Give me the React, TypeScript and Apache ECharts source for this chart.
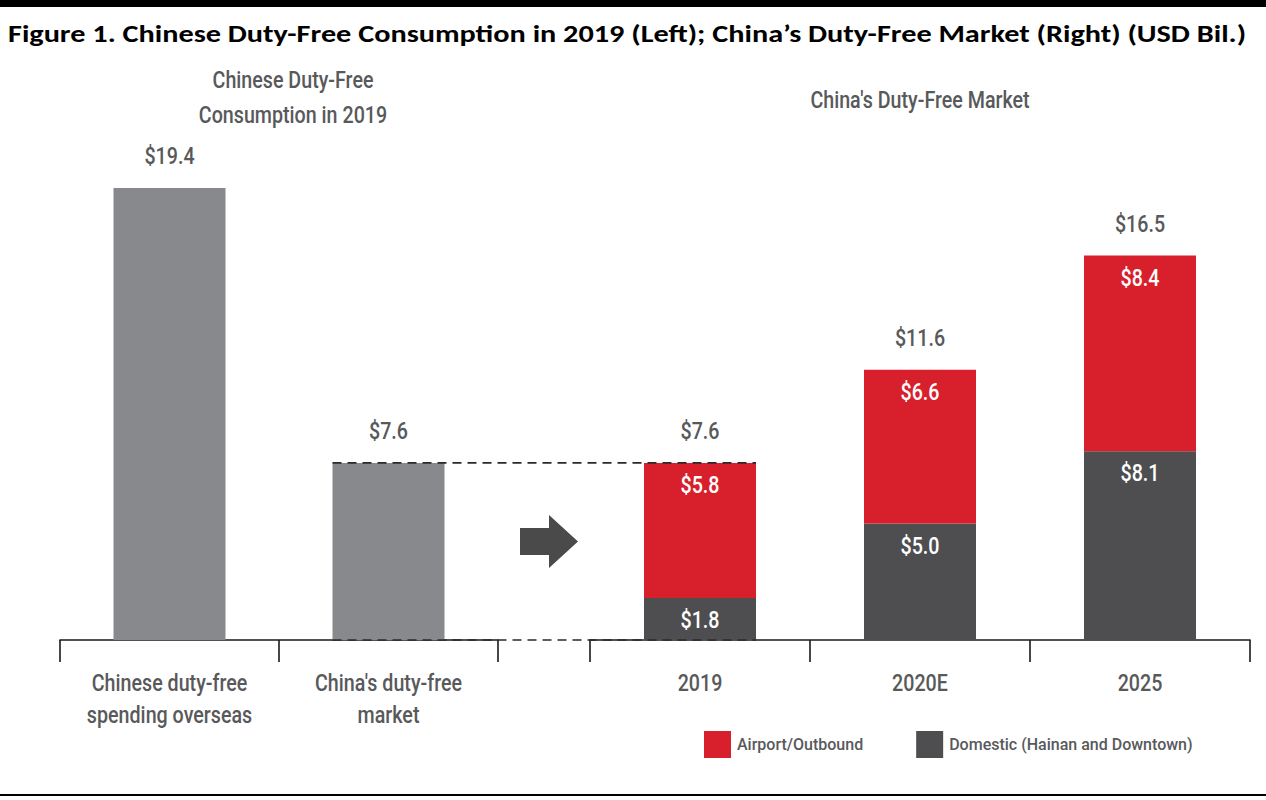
import React, { useEffect, useRef } from "react";
import * as echarts from "echarts";

const leftCategories = ["Chinese duty-free\nspending overseas", "China's duty-free\nmarket"];
const leftValues = [19.4, 7.6];
const rightCategories = ["2019", "2020E", "2025"];
const airportValues = [5.8, 6.6, 8.4];
const domesticValues = [1.8, 5.0, 8.1];
const totalValues = [7.6, 11.6, 16.5];
const seriesNames = ["Airport/Outbound", "Domestic (Hainan and Downtown)"];
const titleText = "Figure 1. Chinese Duty-Free Consumption in 2019 (Left); China\u2019s Duty-Free Market (Right) (USD Bil.)";
const leftHeading = ["Chinese Duty-Free", "Consumption in 2019"];
const rightHeading = "China's Duty-Free Market";

const FONT = "Roboto, 'Noto Sans', sans-serif";
const GRAY_TEXT = "#58595B";
const RED = "#D81F2C";
const DARK = "#4E4E50";
const LIGHT = "#88898D";
const BAR_W = 112;
const SX = 0.82;
const FS = 24;
const FW = 500;

const money = (v: number) => "$" + v.toFixed(1);

export default function App() {
  const ref = useRef<HTMLDivElement>(null);
  useEffect(() => {
    if (!ref.current) return;
    const chart = echarts.init(ref.current, undefined, { renderer: "svg" });
    const axisCommon = {
      type: "category" as const,
      axisLine: { lineStyle: { color: "#1a1a1a", width: 1.6 } },
      axisTick: { show: true, length: 22, interval: 0, lineStyle: { color: "#1a1a1a", width: 1.6 } },
      axisLabel: { show: false },
    };
    chart.setOption({
      animation: false,
      backgroundColor: "#ffffff",
      legend: {
        data: seriesNames,
        left: 699,
        top: 726,
        itemWidth: 27,
        itemHeight: 27,
        itemGap: 53,
        icon: "rect",
        textStyle: { fontFamily: FONT, fontSize: 16, fontWeight: FW, color: GRAY_TEXT, padding: [0, 0, 0, 1] },
      },
      grid: [
        { left: 60, right: 1266 - 498, top: 174, bottom: 160 },
        { left: 590, right: 16, top: 174, bottom: 160 },
      ],
      xAxis: [
        { ...axisCommon, gridIndex: 0, data: leftCategories },
        { ...axisCommon, gridIndex: 1, data: rightCategories },
      ],
      yAxis: [
        { gridIndex: 0, type: "value", min: 0, max: 20, show: false },
        { gridIndex: 1, type: "value", min: 0, max: 20, show: false },
      ],
      series: [
        {
          type: "bar",
          name: "left",
          xAxisIndex: 0,
          yAxisIndex: 0,
          data: leftValues,
          barWidth: BAR_W,
          itemStyle: { color: LIGHT },
        },
        {
          type: "bar",
          name: seriesNames[1],
          xAxisIndex: 1,
          yAxisIndex: 1,
          stack: "r",
          data: domesticValues,
          barWidth: BAR_W,
          itemStyle: { color: DARK },
        },
        {
          type: "bar",
          name: seriesNames[0],
          xAxisIndex: 1,
          yAxisIndex: 1,
          stack: "r",
          data: airportValues,
          barWidth: BAR_W,
          itemStyle: { color: RED },
        },
      ],
    });

    const g: any[] = [];
    const T = (x: number, y: number, text: string, color = GRAY_TEXT, size = FS, sx = SX) =>
      g.push({
        type: "text",
        x,
        y,
        scaleX: sx,
        z: 20,
        style: {
          text,
          textAlign: "center",
          textVerticalAlign: "middle",
          fontFamily: FONT,
          fontWeight: FW,
          fontSize: size,
          fill: color,
        },
      });
    const px = (grid: number, i: number, v: number) => chart.convertToPixel({ gridIndex: grid }, [i, v]) as number[];

    // title & rules
    g.push({ type: "rect", shape: { x: 0, y: 0, width: 1266, height: 7 }, style: { fill: "#000" } });
    g.push({ type: "rect", shape: { x: 0, y: 794, width: 1266, height: 2 }, style: { fill: "#000" } });
    g.push({
      type: "text",
      x: 8,
      y: 33,
      scaleX: 1.21,
      style: {
        text: titleText,
        textAlign: "left",
        textVerticalAlign: "middle",
        fontFamily: "Carlito, Lato, sans-serif",
        fontWeight: "bold",
        fontSize: 25,
        fill: "#000",
      },
    });

    // headings
    T(293, 80, leftHeading[0]);
    T(293, 115, leftHeading[1]);
    T(920, 100, rightHeading);

    // left values and category labels
    leftValues.forEach((v, i) => {
      const p = px(0, i, v);
      T(p[0], p[1] - 32, money(v));
      const b = px(0, i, 0);
      leftCategories[i].split("\n").forEach((line, k) => T(b[0], b[1] + 43 + k * 32, line));
    });
    // right values
    rightCategories.forEach((c, i) => {
      const b = px(1, i, 0);
      T(b[0], b[1] + 43, c);
      const t = px(1, i, totalValues[i]);
      T(t[0], t[1] - 32, money(totalValues[i]));
      const d = px(1, i, domesticValues[i]);
      T(d[0], d[1] + 22, money(domesticValues[i]), "#fff");
      const a = px(1, i, domesticValues[i] + airportValues[i]);
      T(a[0], a[1] + 22, money(airportValues[i]), "#fff");
    });

    // dashed guide lines
    const a = px(0, 1, leftValues[1]);
    const a0 = px(0, 1, 0);
    const b = px(1, 0, totalValues[0]);
    const x1 = a[0] - BAR_W / 2;
    const x2 = b[0] + BAR_W / 2;
    const dash = { stroke: "#2a2a2a", lineWidth: 1.6, lineDash: [9, 6] };
    g.push({ type: "line", shape: { x1, y1: a[1], x2, y2: a[1] }, style: dash, z: 10 });
    g.push({ type: "line", shape: { x1, y1: a0[1], x2, y2: a0[1] }, style: dash, z: 10 });

    // arrow
    g.push({
      type: "polygon",
      shape: {
        points: [
          [520, 528],
          [549, 528],
          [549, 515],
          [578, 541.5],
          [549, 568],
          [549, 555],
          [520, 555],
        ],
      },
      style: { fill: "#4a4a4a" },
    });

    chart.setOption({ graphic: g });
    return () => chart.dispose();
  }, []);
  return <div ref={ref} style={{ position: "fixed", left: 0, top: 0, width: 1266, height: 800 }} />;
}
